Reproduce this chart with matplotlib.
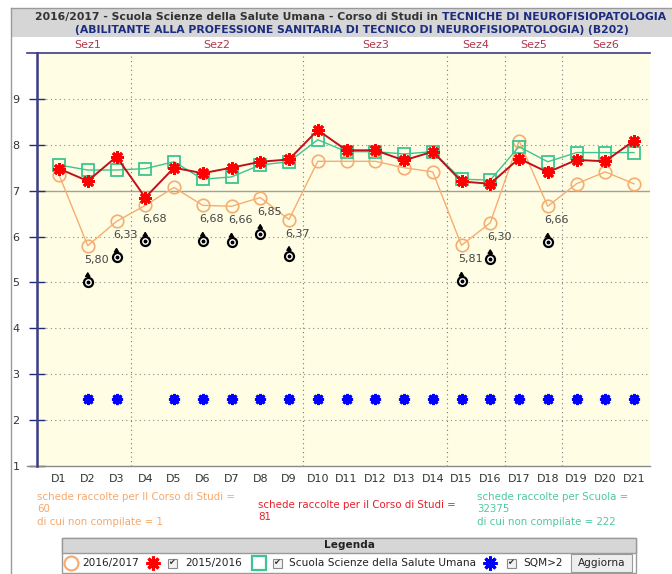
import matplotlib
matplotlib.use("Agg")
import matplotlib.pyplot as plt
import matplotlib.transforms as mtransforms
from matplotlib.lines import Line2D
from matplotlib.patches import Rectangle
import numpy as np

# domande D1..D21
labels = ["D%d" % i for i in range(1, 22)]
anno_2016 = [7.35, 5.80, 6.33, 6.68, 7.07, 6.68, 6.66, 6.85, 6.37, 7.64, 7.64,
             7.64, 7.50, 7.41, 5.81, 6.30, 8.09, 6.66, 7.15, 7.41, 7.15]
anno_2015 = [7.48, 7.21, 7.74, 6.85, 7.50, 7.38, 7.50, 7.63, 7.68, 8.32, 7.88,
             7.88, 7.66, 7.85, 7.20, 7.15, 7.70, 7.40, 7.67, 7.64, 8.09]
scuola = [7.56, 7.45, 7.45, 7.48, 7.63, 7.25, 7.30, 7.56, 7.63, 8.11, 7.85,
          7.85, 7.80, 7.85, 7.25, 7.23, 7.96, 7.63, 7.83, 7.83, 7.83]
sqm_level = [np.nan, 2.45, 2.45, np.nan, 2.45, 2.45, 2.45, 2.45, 2.45, 2.45, 2.45,
             2.45, 2.45, 2.45, 2.45, 2.45, 2.45, 2.45, 2.45, 2.45, 2.45]
sezioni = ["Sez1", "Sez2", "Sez3", "Sez4", "Sez5", "Sez6"]
sez_size = [3, 6, 5, 2, 2, 3]
soglia = 7.0

ORANGE = "#f5ad72"
RED = "#ff0000"
DARKRED = "#c0101a"
GREEN = "#3cc592"
BLUE = "#0000ff"
NAVY = "#1c2c80"
SEZ_COL = "#b0384e"

W, H = 672, 574
fig = plt.figure(figsize=(W / 100, H / 100), dpi=100)
fig.patch.set_facecolor("white")


def fx(px):
    return px / W


def fy(py):
    return 1 - py / H


# cornice esterna e fascia del titolo
fig.add_artist(Rectangle((fx(11), fy(37)), fx(672) - fx(11), fy(8) - fy(37),
                         transform=fig.transFigure, facecolor="#d6d6d6", edgecolor="none"))
fig.add_artist(Line2D([fx(11), fx(11)], [fy(8), fy(574)], color="#9a9a9a", lw=1))
fig.add_artist(Line2D([fx(11), fx(672)], [fy(8), fy(8)], color="#9a9a9a", lw=1))

t1 = "2016/2017 - Scuola Scienze della Salute Umana - Corso di Studi in "
t2 = "TECNICHE DI NEUROFISIOPATOLOGIA"
tt = fig.text(fx(35), fy(17), t1, fontsize=7.85, fontweight="bold", color="#333333",
              va="center", ha="left")
fig.canvas.draw()
ex = tt.get_window_extent()
fig.text(ex.x1 / W, fy(17), t2, fontsize=7.85, fontweight="bold", color=NAVY,
         va="center", ha="left")
fig.text(fx(352), fy(30), "(ABILITANTE ALLA PROFESSIONE SANITARIA DI TECNICO DI NEUROFISIOPATOLOGIA) (B202)",
         fontsize=7.85, fontweight="bold", color=NAVY, va="center", ha="center")

ax = fig.add_axes([fx(37), fy(466), fx(650) - fx(37), fy(53) - fy(466)])
ax.set_facecolor("#fffde3")
x = np.arange(1, len(labels) + 1)
ax.set_xlim(1 - 22 / 28.75, 21 + 16 / 28.75)
ax.set_ylim(1, 10)

# griglia orizzontale
for v in range(2, 10):
    if v == 7:
        continue
    ax.axhline(v, color="#8c8c8c", lw=0.8, ls=(0, (1, 3)), zorder=1)
ax.axhline(soglia, color="#a0a0a0", lw=1, zorder=1)

# separatori di sezione
edges = np.cumsum(sez_size)
start = 0
for n, e in zip(sezioni, edges):
    ax.text((start + 1 + e) / 2, 10.18, n, color=SEZ_COL, fontsize=8,
            ha="center", va="center")
    if e < len(labels):
        ax.axvline(e + 0.5, color="#777777", lw=0.8, ls=(0, (1, 3)), zorder=1)
    start = e

ax.plot(x, anno_2016, color=ORANGE, lw=1, marker="o", ms=9, mfc="none",
        mec=ORANGE, mew=1.2, zorder=3)
ax.plot(x, scuola, color=GREEN, lw=1, marker="s", ms=8, mfc="none",
        mec=GREEN, mew=1.3, zorder=4)
ax.plot(x, anno_2015, color=DARKRED, lw=1.4, zorder=5)
ax.plot(x, anno_2015, ls="none", marker=(8, 2, 0), ms=9, mec=RED, mew=2, zorder=6)
ax.plot(x, sqm_level, ls="none", marker=(8, 2, 0), ms=8, mec=BLUE, mew=2, zorder=6)

# etichette e simbolo per i valori sotto soglia
lab_tr = mtransforms.offset_copy(ax.transData, fig=fig, x=9, y=-14, units="dots")
sym_tr = mtransforms.offset_copy(ax.transData, fig=fig, x=0, y=-36, units="dots")
tip_tr = mtransforms.offset_copy(ax.transData, fig=fig, x=0, y=-26, units="dots")
base_tr = mtransforms.offset_copy(ax.transData, fig=fig, x=0, y=-31, units="dots")
for xi, v in zip(x, anno_2016):
    if v < soglia:
        ax.text(xi, v, ("%.2f" % v).replace(".", ","), transform=lab_tr,
                fontsize=8, color="#444444", ha="center", va="center", zorder=7)
        ax.plot(xi, v, marker="o", ms=6.5, mfc="white", mec="black", mew=1.6,
                transform=sym_tr, zorder=7)
        ax.plot(xi, v, marker="o", ms=1.8, color="black", transform=sym_tr, zorder=8)
        ax.annotate("", xy=(xi, v), xycoords=tip_tr, xytext=(xi, v), textcoords=base_tr,
                    arrowprops=dict(arrowstyle="-|>,head_length=0.22,head_width=0.14",
                                    color="black", lw=1.2, shrinkA=0, shrinkB=0), zorder=7)

ax.set_xticks(x)
ax.set_xticklabels(labels)
ax.set_yticks(range(1, 10))
ax.tick_params(axis="x", length=0, labelsize=8, labelcolor="#333333", pad=6)
ax.tick_params(axis="y", direction="inout", length=11, width=1, color=NAVY,
               labelsize=8, labelcolor="#333333", pad=7)
for s in ("right", "bottom", "top"):
    ax.spines[s].set_visible(False)
ax.spines["left"].set_color("#3b3b86")
ax.spines["left"].set_linewidth(1.8)
ax.plot([-10 / 613, 1], [1, 1], transform=ax.transAxes, color="#3b3b86", lw=1.2, clip_on=False)
ax.plot([-10 / 613, 1], [0, 0], transform=ax.transAxes, color="#8a8a8a", lw=1, clip_on=False)

# conteggi schede
fs = 7.4
fig.text(fx(37), fy(492), "schede raccolte per Il Corso di Studi =\n60\ndi cui non compilate = 1",
         color="#f7a868", fontsize=fs, va="top", ha="left", linespacing=1.3)
fig.text(fx(258), fy(500), "schede raccolte per il Corso di Studi =\n81",
         color="#e8202a", fontsize=fs, va="top", ha="left", linespacing=1.3)
fig.text(fx(477), fy(492), "schede raccolte per Scuola =\n32375\ndi cui non compilate = 222",
         color="#4cc9a0", fontsize=fs, va="top", ha="left", linespacing=1.3)

# riquadro legenda
fig.add_artist(Rectangle((fx(62), fy(573)), fx(636) - fx(62), fy(538) - fy(573),
                         transform=fig.transFigure, facecolor="white", edgecolor="#9a9a9a", lw=1))
fig.add_artist(Rectangle((fx(62), fy(553)), fx(636) - fx(62), fy(538) - fy(553),
                         transform=fig.transFigure, facecolor="#d6d6d6", edgecolor="#9a9a9a", lw=1))
fig.text(fx(349), fy(545.5), "Legenda", fontsize=7.6, fontweight="bold", color="#222222",
         ha="center", va="center")

ry = fy(563)
fig.add_artist(Line2D([fx(71)], [ry], marker="o", ms=10, mfc="none", mec=ORANGE, mew=1.6))
fig.add_artist(Line2D([fx(153)], [ry], marker=(8, 2, 0), ms=10, mec=RED, mew=2.2))
fig.add_artist(Line2D([fx(259)], [ry], marker="s", ms=10, mfc="none", mec=GREEN, mew=1.6))
fig.add_artist(Line2D([fx(490)], [ry], marker=(8, 2, 0), ms=10, mec=BLUE, mew=2.2))
for cx in (172, 277, 511):
    fig.add_artist(Rectangle((fx(cx - 4.5), ry - 4.5 / H), 9 / W, 9 / H, transform=fig.transFigure,
                             facecolor="#f2f2f2", edgecolor="#8a8a8a", lw=0.8))
    fig.text(fx(cx), ry, "\u2714", fontsize=6, color="#333333", ha="center", va="center")
for tx, s in ((82, "2016/2017"), (185, "2015/2016"), (289, "Scuola Scienze della Salute Umana"),
              (523, "SQM>2")):
    fig.text(fx(tx), ry, s, fontsize=7.6, color="#222222", ha="left", va="center")
fig.add_artist(Rectangle((fx(571), fy(572)), fx(632) - fx(571), fy(554) - fy(572),
                         transform=fig.transFigure, facecolor="#eeeeee", edgecolor="#9a9a9a", lw=0.8))
fig.text(fx(601.5), ry, "Aggiorna", fontsize=7.6, color="#222222", ha="center", va="center")

fig.savefig("out.png", dpi=100)
